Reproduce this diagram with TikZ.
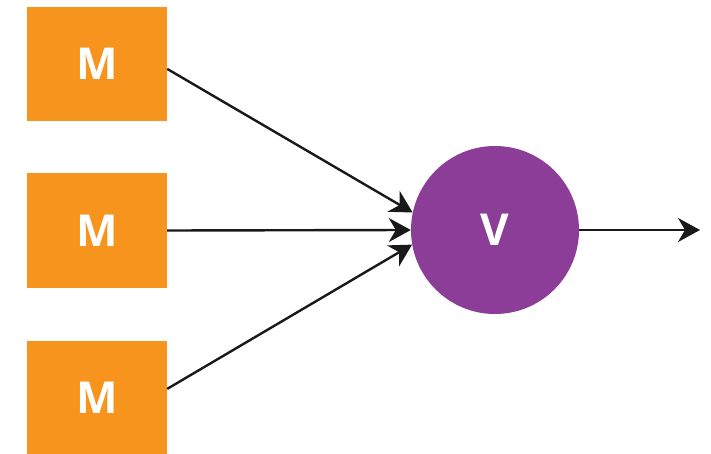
\documentclass[tikz,border=0pt]{standalone}
\usepackage{fontspec}
\setmainfont{Open Sans}
\usetikzlibrary{arrows.meta}
\definecolor{morange}{HTML}{F7941E}
\definecolor{vpurple}{HTML}{8C3D97}
\tikzset{
  vtip/.tip={Stealth[length=22pt,width=24pt,inset=7pt]}
}
\begin{document}
\begin{tikzpicture}[x=1pt,y=-1pt,
  mbox/.style={fill=morange,draw=none,minimum width=140pt,minimum height=114pt,inner sep=0pt,text=white,font=\fontsize{44}{48}\selectfont\bfseries},
  vnode/.style={circle,fill=vpurple,draw=none,minimum size=168pt,inner sep=0pt,text=white,font=\fontsize{44}{48}\selectfont\bfseries},
  conn/.style={line width=2.4pt,draw=black!90,-vtip}]
\useasboundingbox (0,0) rectangle (711,454);
\node[mbox] (m1) at (97,64) {M};
\node[mbox] (m2) at (97,230.5) {M};
\node[mbox] (m3) at (97,397.5) {M};
\node[vnode] (v) at (495,230) {V};
\coordinate (out) at (700,230);
\draw[conn] (m1.-4) -- (v.168);
\draw[conn] (m2.east) -- (v.west);
\draw[conn] (m3.7) -- (v.190);
\draw[conn] (v.east) -- (out);
\end{tikzpicture}
\end{document}
